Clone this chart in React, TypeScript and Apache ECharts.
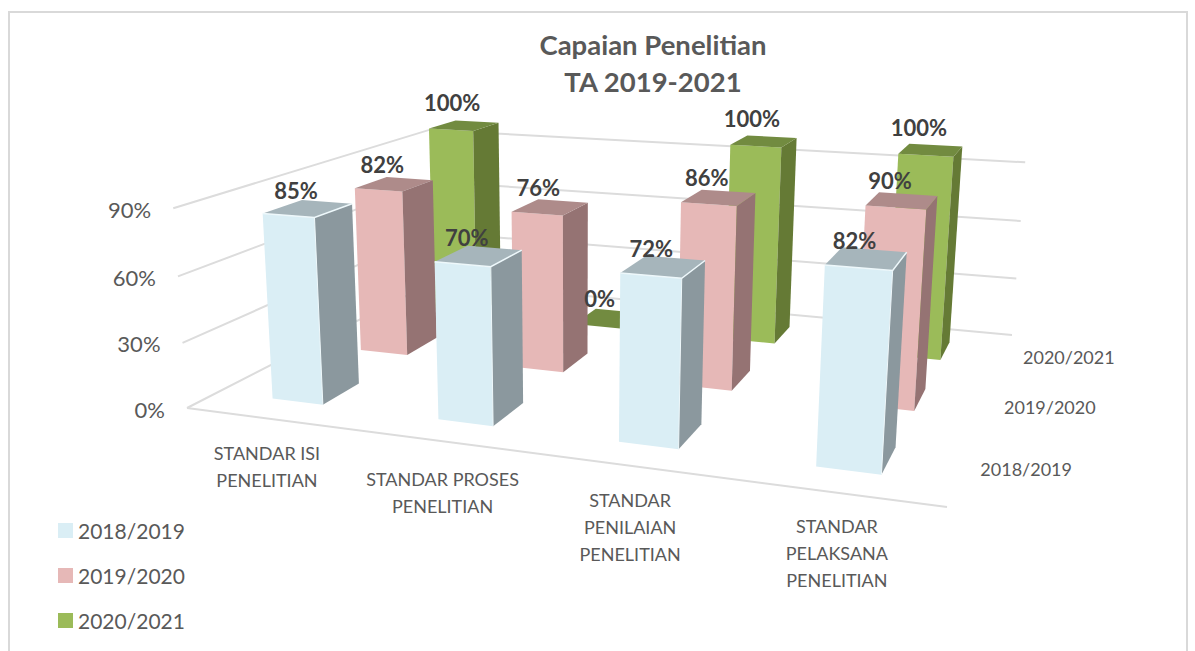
import React, { useEffect, useRef } from "react";
import * as echarts from "echarts";

const categories = ["STANDAR ISI\nPENELITIAN", "STANDAR PROSES\nPENELITIAN", "STANDAR\nPENILAIAN\nPENELITIAN", "STANDAR\nPELAKSANA\nPENELITIAN"];
const seriesNames = ["2018/2019", "2019/2020", "2020/2021"];
const values2018 = [85, 70, 72, 82];
const values2019 = [82, 76, 86, 90];
const values2020 = [100, 0, 100, 100];
const tickValues = [0, 30, 60, 90];

const W = 1195;
const H = 651;
const FONT = "Lato, 'Open Sans', sans-serif";

// Perspective of the chart's box: floor corners, vanishing point of the verticals
const FL = [187, 408];
const FR = [947, 507];
const BR = [1012, 335];
const BL = [433, 282];
const VP = [575, 6050];
const HEIGHT_K = -0.00038;

const sx = FL[0] - FR[0] + BR[0] - BL[0];
const sy = FL[1] - FR[1] + BR[1] - BL[1];
const dx1 = FR[0] - BR[0];
const dx2 = BL[0] - BR[0];
const dy1 = FR[1] - BR[1];
const dy2 = BL[1] - BR[1];
const den = dx1 * dy2 - dx2 * dy1;
const hg = (sx * dy2 - dx2 * sy) / den;
const hh = (dx1 * sy - sx * dy1) / den;
const ha = FR[0] - FL[0] + hg * FR[0];
const hb = BL[0] - FL[0] + hh * BL[0];
const hd = FR[1] - FL[1] + hg * FR[1];
const he = BL[1] - FL[1] + hh * BL[1];

function project(u: number, v: number, val: number): number[] {
  const w = hg * u + hh * v + 1;
  const x = ha * u + hb * v + FL[0];
  const y = hd * u + he * v + FL[1];
  const t = HEIGHT_K * val;
  return [(x + t * VP[0]) / (w + t), (y + t * VP[1]) / (w + t)];
}

// The hidden grid fills the chart, so its pixels normalise to the box's u and value
function toU(api: any, cat: number) {
  return api.coord([cat, 0])[0] / W;
}
function toVal(api: any, val: number) {
  return ((H - api.coord([0, val])[1]) / H) * 100;
}

const BAR_HALF = 0.039;
const DEPTH_HALF = 0.067;
const faces = [
  { front: "#daeef5", side: "#8b989e", top: "#a6b5bb", edge: "#eef8fb" },
  { front: "#e6b8b7", side: "#957373", top: "#ae8b8a", edge: "" },
  { front: "#9bbb59", side: "#657a35", top: "#728b40", edge: "" },
];

function barRenderer(depth: number) {
  return (_p: any, api: any) => {
    const cat = api.value(0);
    const val = toVal(api, api.value(1));
    const uc = toU(api, cat);
    const vc = (depth + 0.5) / 3;
    const u0 = uc - BAR_HALF;
    const u1 = uc + BAR_HALF;
    const v0 = vc - DEPTH_HALF;
    const v1 = vc + DEPTH_HALF;
    const f = faces[depth];
    const a = project(u0, v0, 0);
    const b = project(u1, v0, 0);
    const c = project(u1, v1, 0);
    const at = project(u0, v0, val);
    const bt = project(u1, v0, val);
    const ct = project(u1, v1, val);
    const dt = project(u0, v1, val);
    const children: any[] = [
      { type: "polygon", shape: { points: [a, b, bt, at] }, style: { fill: f.front } },
      { type: "polygon", shape: { points: [b, c, ct, bt] }, style: { fill: f.side } },
      { type: "polygon", shape: { points: [at, bt, ct, dt] }, style: { fill: f.top } },
    ];
    if (f.edge) {
      children.push({
        type: "polyline",
        shape: { points: [at, bt, ct] },
        style: { stroke: f.edge, lineWidth: 1.5, fill: "none" },
      });
      children.push({
        type: "line",
        shape: { x1: bt[0], y1: bt[1], x2: b[0], y2: b[1] },
        style: { stroke: f.edge, lineWidth: 1 },
      });
    }
    return { type: "group", children };
  };
}

// Value labels sit in their own layer, above every bar
const LABEL_SHIFT_X = -12;
const LABEL_SHIFT_Y = [-18, -20, -23];
const ZERO_LABEL_SHIFT_X = 4;
const ZERO_LABEL_SHIFT_Y = 3;
function valueLabelRenderer(depth: number) {
  return (_p: any, api: any) => {
    const value = api.value(1);
    const mid = project(toU(api, api.value(0)), (depth + 0.5) / 3, toVal(api, value));
    const zero = value === 0;
    return {
      type: "text",
      style: {
        text: value + "%",
        x: mid[0] + LABEL_SHIFT_X + (zero ? ZERO_LABEL_SHIFT_X : 0),
        y: mid[1] + LABEL_SHIFT_Y[depth] + (zero ? ZERO_LABEL_SHIFT_Y : 0),
        align: "center",
        verticalAlign: "middle",
        font: `bold 22px ${FONT}`,
        fill: "#404040",
      },
    };
  };
}

function gridRenderer(_p: any, api: any) {
  const val = toVal(api, api.value(1));
  const p0 = project(0, 0, val);
  const p1 = project(0, 1, val);
  const p2 = project(1, 1, val);
  const children: any[] = [
    {
      type: "polyline",
      shape: { points: [p0, p1, p2] },
      style: { stroke: "#dcdcdc", lineWidth: 2, fill: "none" },
    },
    {
      type: "text",
      style: {
        text: api.value(1) + "%",
        x: p0[0] - 22,
        y: p0[1] + 1,
        align: "right",
        verticalAlign: "middle",
        font: `22px ${FONT}`,
        fill: "#595959",
      },
    },
  ];
  if (api.value(1) === 0) {
    const p3 = project(1, 0, val);
    children.push({
      type: "line",
      shape: { x1: p0[0], y1: p0[1], x2: p3[0], y2: p3[1] },
      style: { stroke: "#dcdcdc", lineWidth: 2 },
    });
  }
  return { type: "group", children };
}

const catLabelOffset = [
  [-1, 48],
  [2, 51],
  [1, 61],
  [1, 60],
];
function catLabelRenderer(_p: any, api: any) {
  const cat = api.value(0);
  const p = project(toU(api, cat), 0, 0);
  return {
    type: "text",
    style: {
      text: categories[cat],
      x: p[0] + catLabelOffset[cat][0],
      y: p[1] + catLabelOffset[cat][1],
      align: "center",
      verticalAlign: "middle",
      lineHeight: 27,
      font: `18px ${FONT}`,
      fill: "#595959",
    },
  };
}

const DEPTH_LABEL_OFFSET = [65, 0];
function depthLabelRenderer(_p: any, api: any) {
  const d = api.value(0);
  const p = project(1, (d + 0.5) / 3, 0);
  return {
    type: "text",
    style: {
      text: seriesNames[d],
      x: p[0] + DEPTH_LABEL_OFFSET[0],
      y: p[1] + DEPTH_LABEL_OFFSET[1],
      align: "center",
      verticalAlign: "middle",
      font: `18px ${FONT}`,
      fill: "#595959",
    },
  };
}

export default function App() {
  const ref = useRef<HTMLDivElement>(null);
  useEffect(() => {
    const chart = echarts.init(ref.current!, null, { renderer: "svg" });
    const valuesBy = [values2018, values2019, values2020];
    chart.setOption({
      animation: false,
      backgroundColor: "#ffffff",
      title: {
        text: "Capaian Penelitian\nTA 2019-2021",
        left: 648,
        top: 21,
        textAlign: "center",
        textStyle: { fontFamily: FONT, fontWeight: "bold", fontSize: 27.5, color: "#595959", lineHeight: 37 },
      },
      legend: {
        orient: "vertical",
        left: 53,
        top: 515,
        itemWidth: 15,
        itemHeight: 15,
        itemGap: 24,
        icon: "rect",
        data: seriesNames,
        textStyle: { fontFamily: FONT, fontSize: 21, color: "#595959", padding: [0, 0, 0, 0] },
      },
      grid: { left: 0, right: 0, top: 0, bottom: 0 },
      xAxis: { type: "category", show: false, data: categories },
      yAxis: { type: "value", show: false, min: 0, max: 100 },
      graphic: [
        {
          type: "polyline",
          shape: { points: [[9, 651], [9, 12], [1187, 12], [1187, 651]] },
          style: { stroke: "#d9d9d9", lineWidth: 2, fill: "none" },
          silent: true,
        },
      ],
      series: [
        {
          type: "custom",
          name: "axis",
          z: 1,
          renderItem: gridRenderer,
          data: tickValues.map((t) => [0, t]),
          silent: true,
        },
        {
          type: "custom",
          name: "categoryLabels",
          z: 1,
          renderItem: catLabelRenderer,
          data: categories.map((_, i) => [i, 0]),
          silent: true,
        },
        {
          type: "custom",
          name: "depthLabels",
          z: 1,
          renderItem: depthLabelRenderer,
          data: seriesNames.map((_, i) => [i, 0]),
          silent: true,
        },
        ...seriesNames.map((name, d) => ({
          type: "custom",
          name,
          z: 10 - d,
          itemStyle: { color: faces[d].front },
          renderItem: barRenderer(d),
          data: valuesBy[d].map((v, i) => [i, v]),
        })),
        ...seriesNames.map((name, d) => ({
          type: "custom",
          name: name + " labels",
          z: 20,
          silent: true,
          renderItem: valueLabelRenderer(d),
          data: valuesBy[d].map((v, i) => [i, v]),
        })),
      ],
    });
    return () => chart.dispose();
  }, []);
  return <div ref={ref} style={{ position: "absolute", left: 0, top: 0, width: W, height: H }} />;
}
